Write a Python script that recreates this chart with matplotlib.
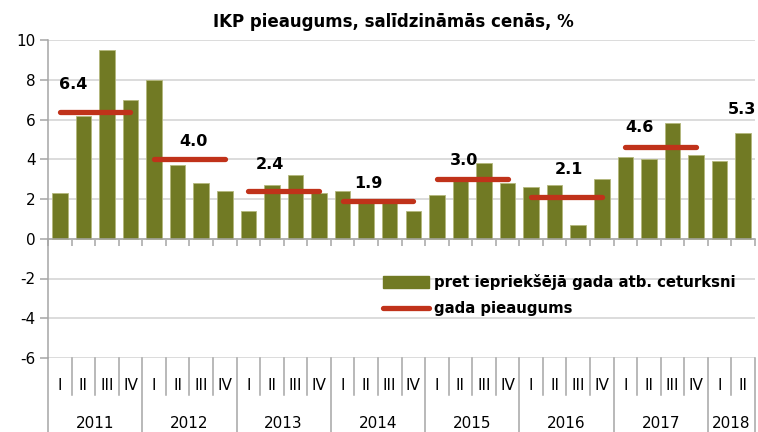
import numpy as np
import matplotlib
matplotlib.use('Agg')
import matplotlib.pyplot as plt
from matplotlib.lines import Line2D
from matplotlib.patches import Patch
from matplotlib.transforms import blended_transform_factory

plt.rcParams['font.family'] = ['DejaVu Sans']
plt.rcParams['axes.unicode_minus'] = False

years = ['2011', '2012', '2013', '2014', '2015', '2016', '2017', '2018']
quarters = ['I', 'II', 'III', 'IV'] * 7 + ['I', 'II']

# y/y growth vs same quarter of previous year, %
quarter_growth = [2.3, 6.2, 9.5, 7.0,
                  8.0, 3.7, 2.8, 2.4,
                  1.4, 2.7, 3.2, 2.3,
                  2.4, 1.8, 1.9, 1.4,
                  2.2, 2.9, 3.8, 2.8,
                  2.6, 2.7, 0.7, 3.0,
                  4.1, 4.0, 5.8, 4.2,
                  3.9, 5.3]

# annual growth, %
annual_growth = [6.4, 4.0, 2.4, 1.9, 3.0, 2.1, 4.6]
annual_labels = ['6.4', '4.0', '2.4', '1.9', '3.0', '2.1', '4.6', '5.3']
label_x = [1.06, 6.16, 9.4, 13.6, 17.67, 22.1, 25.1, 29.45]
label_y = [7.76, 4.9, 3.73, 2.77, 3.94, 3.47, 5.59, 6.5]

bar_color = '#717A24'
line_color = '#C0321A'
grid_color = '#D9D9D9'
axis_color = '#A6A6A6'

fig = plt.figure(figsize=(7.58, 4.32), dpi=100)
W, H = 758, 432
ax = fig.add_axes([48 / W, (H - 358) / H, (755 - 48) / W, (358 - 40) / H])

n = len(quarter_growth)
x = np.arange(n) + 0.5
ax.bar(x, quarter_growth, width=0.66, color=bar_color,
       edgecolor='#B4B87C', linewidth=0.6, zorder=2)

for i, v in enumerate(annual_growth):
    ax.plot([4 * i + 0.5, 4 * i + 3.5], [v, v], color=line_color, lw=3.8,
            solid_capstyle='round', zorder=3)

for t, lx, ly in zip(annual_labels, label_x, label_y):
    ax.text(lx, ly, t, ha='center', va='center', fontsize=11.5,
            fontweight='bold', color='black', zorder=4, clip_on=False)

ax.set_xlim(0, n)
ax.set_ylim(-6, 10)
ax.set_yticks(np.arange(-6, 11, 2))
ax.yaxis.grid(True, color=grid_color, lw=1.3, zorder=0)
ax.set_axisbelow(True)

ax.spines['top'].set_visible(False)
ax.spines['right'].set_visible(False)
ax.spines['left'].set_color(axis_color)
ax.spines['bottom'].set_color(axis_color)
ax.spines['bottom'].set_position(('data', 0))
ax.spines['left'].set_linewidth(1.1)
ax.spines['bottom'].set_linewidth(1.1)

ax.set_xticks(np.arange(0, n + 1))
ax.set_xticklabels([])
ax.tick_params(axis='x', direction='out', length=5, color=axis_color, width=1.1)
ax.tick_params(axis='y', direction='out', length=6, color=axis_color, width=1.1,
               labelsize=11, pad=3)

# category labels below the plot area
trans = blended_transform_factory(ax.transData, ax.transAxes)
px = 1.0 / (358 - 40)
for i, q in enumerate(quarters):
    ax.text(i + 0.5, -(385 - 358) * px, q, transform=trans, ha='center',
            va='center', fontsize=11, clip_on=False)
for b in range(n + 1):
    if b % 4 == 0 or b == n:
        y0 = -(432 - 358) * px
    else:
        y0 = -(395 - 358) * px
    ax.plot([b, b], [0, y0], transform=trans, color=axis_color, lw=1.1,
            clip_on=False)
for j, yr in enumerate(years):
    x0 = 4 * j
    x1 = min(4 * j + 4, n)
    ax.text((x0 + x1) / 2, -(423 - 358) * px, yr, transform=trans,
            ha='center', va='center', fontsize=11, clip_on=False)

handles = [Patch(facecolor=bar_color, edgecolor=bar_color),
           Line2D([0], [0], color=line_color, lw=3.8, solid_capstyle='round')]
leg = ax.legend(handles, ['pret iepriekšējā gada atb. ceturksni', 'gada pieaugums'],
                loc='upper left', bbox_to_anchor=(383 / W, (H - 274) / H),
                bbox_transform=fig.transFigure, frameon=False,
                prop={'weight': 'bold', 'size': 10.7}, handlelength=3.1,
                handleheight=0.85, handletextpad=0.3, labelspacing=0.75,
                borderpad=0, borderaxespad=0)

fig.text(393 / W, 1 - 22 / H, 'IKP pieaugums, salīdzināmās cenās, %',
         ha='center', va='center', fontsize=12, fontweight='bold')

fig.savefig('out.png', dpi=100)
